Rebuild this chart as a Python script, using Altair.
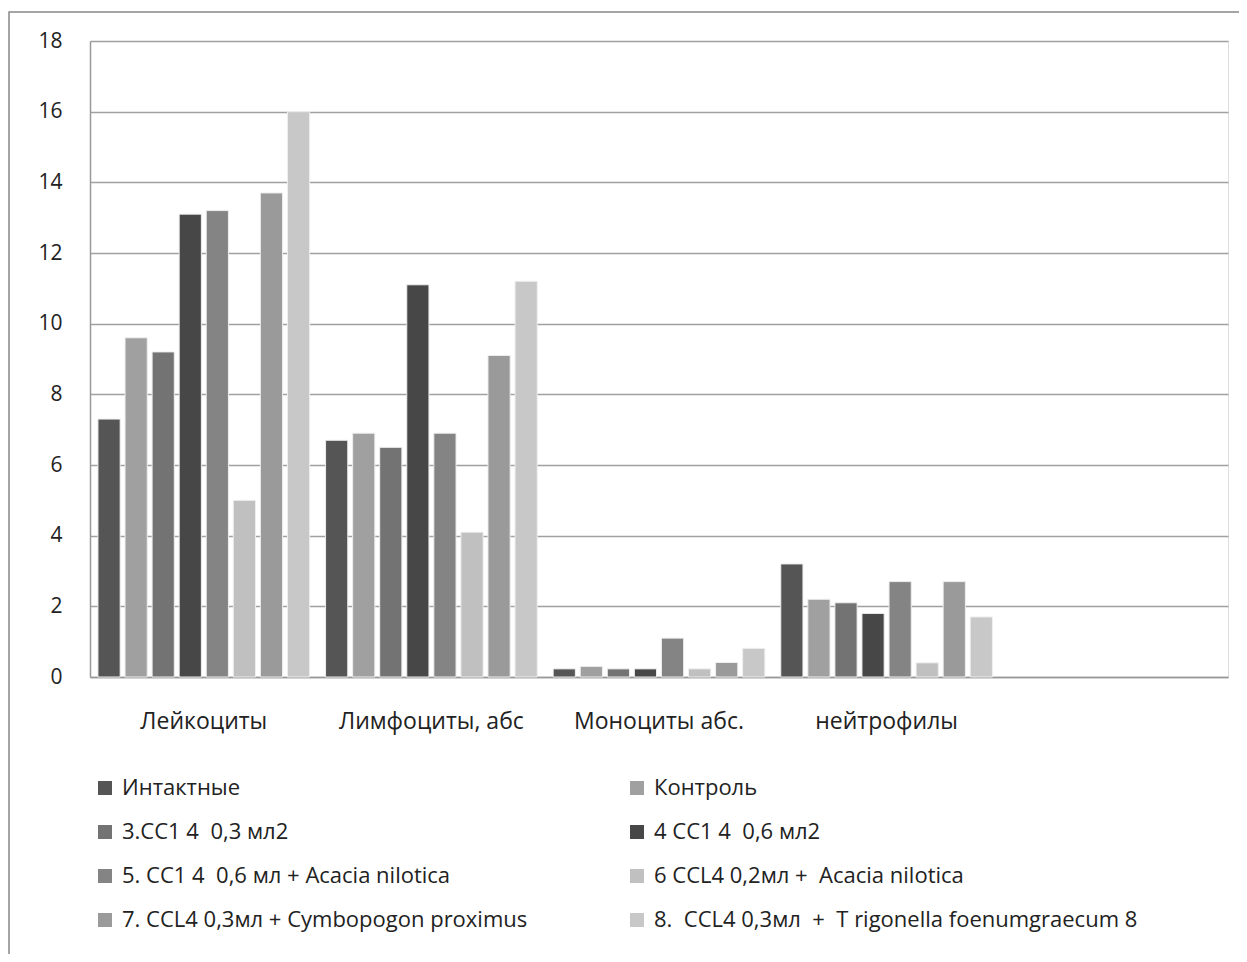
import altair as alt
import pandas as pd

categories = ["Лейкоциты", "Лимфоциты, абс", "Моноциты абс.", "нейтрофилы"]
x_domain = categories + [" "]
NB = "\u00a0"
series = [
    "Интактные",
    "Контроль",
    "3.CC1 4 " + NB + "0,3 мл2",
    "4 CC1 4 " + NB + "0,6 мл2",
    "5. CC1 4 " + NB + "0,6 мл + Acacia nilotica",
    "6 CCL4 0,2мл + " + NB + "Acacia nilotica",
    "7. CCL4 0,3мл + Cymbopogon proximus",
    "8. " + NB + "CCL4 0,3мл " + NB + "+ " + NB + "T rigonella foenumgraecum 8",
]
colors = ["#555555", "#a0a0a0", "#737373", "#474747", "#848484", "#c0c0c0", "#9a9a9a", "#c8c8c8"]

leukocytes = [7.3, 9.6, 9.2, 13.1, 13.2, 5.0, 13.7, 16.0]
lymphocytes = [6.7, 6.9, 6.5, 11.1, 6.9, 4.1, 9.1, 11.2]
monocytes = [0.23, 0.3, 0.23, 0.23, 1.1, 0.23, 0.41, 0.81]
neutrophils = [3.2, 2.2, 2.1, 1.8, 2.7, 0.4, 2.7, 1.7]

values = [leukocytes, lymphocytes, monocytes, neutrophils]
rows = []
for c, vals in zip(categories, values):
    for s, v in zip(series, vals):
        rows.append({"cat": c, "series": s, "value": v})
df = pd.DataFrame(rows)

# legend fills column by column: reorder so it reads row by row like the reference
legend_order = [0, 2, 4, 6, 1, 3, 5, 7]
legend_domain = [series[i] for i in legend_order]
legend_range = [colors[i] for i in legend_order]

FONT = "Open Sans"

bars = alt.Chart(df).mark_bar(stroke="#eeeeee", strokeWidth=1).encode(
    x=alt.X("cat:N", sort=x_domain,
            scale=alt.Scale(domain=x_domain, paddingInner=0.07, paddingOuter=0.035),
            axis=alt.Axis(title=None, labelAngle=0, ticks=False, labelPadding=33,
                          labelFont=FONT, labelFontSize=23, labelColor="#222222",
                          labelLimit=400,
                          domainColor="#999999", domainWidth=1.5, grid=False)),
    xOffset=alt.XOffset("series:N", sort=series,
                        scale=alt.Scale(domain=series, paddingInner=0.18)),
    y=alt.Y("value:Q",
            scale=alt.Scale(domain=[0, 18], nice=False),
            axis=alt.Axis(title=None, values=list(range(0, 19, 2)), ticks=False,
                          labelPadding=28, labelFont=FONT, labelFontSize=21,
                          labelColor="#222222", domainColor="#999999", domainWidth=1.5,
                          gridColor="#a0a0a0", gridWidth=1.3)),
    color=alt.Color("series:N",
                    scale=alt.Scale(domain=legend_domain, range=legend_range),
                    legend=alt.Legend(title=None, orient="none", legendX=4, legendY=736,
                                      columns=2, columnPadding=98, rowPadding=22,
                                      symbolType="square", symbolSize=196,
                                      symbolStrokeWidth=0, labelOffset=6,
                                      labelFont=FONT, labelFontSize=22,
                                      labelColor="#222222", labelLimit=800)),
)

frame = alt.Chart(alt.Data(values=[{"a": 1}])).mark_rect(
    fill=None, stroke="#888888", strokeWidth=1.5
).encode(
    x=alt.value(-81), x2=alt.value(1200), y=alt.value(-29), y2=alt.value(960)
)

chart = alt.layer(bars, frame).properties(
    width=1138, height=636,
    autosize=alt.AutoSizeParams(type="none"),
    padding={"left": 82, "top": 33, "right": 11, "bottom": 277},
).configure_view(stroke=None).configure(background="white")

chart.save("out.html", embed_options={"renderer": "svg", "actions": False})
